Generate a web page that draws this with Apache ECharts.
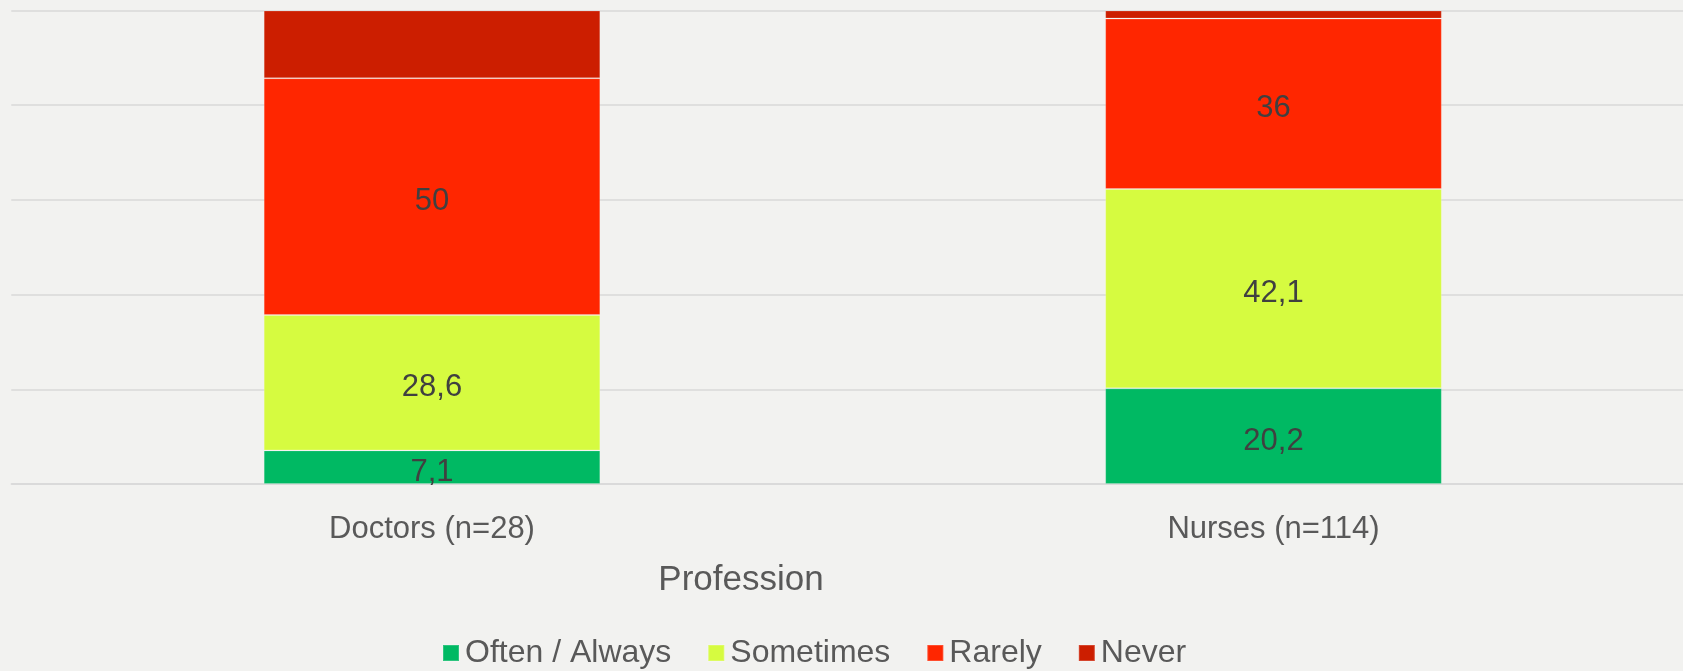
<!DOCTYPE html>
<html>
<head>
<meta charset="utf-8">
<script src="https://cdn.jsdelivr.net/npm/echarts@6/dist/echarts.min.js"></script>
<style>
html,body{margin:0;padding:0;background:#F2F2F0;}
#chart{width:1683px;height:671px;}
</style>
</head>
<body>
<div id="chart"></div>
<script>
const categories = ['Doctors (n=28)', 'Nurses (n=114)'];
const seriesNames = ['Often / Always', 'Sometimes', 'Rarely', 'Never'];
const oftenAlways = [7.1, 20.2];
const sometimes = [28.6, 42.1];
const rarely = [50, 36];
const never = [14.3, 1.7];
const axisTitle = 'Profession';

const colors = ['#00B963', '#D6FB40', '#FF2600', '#CC1E00'];
const values = [oftenAlways, sometimes, rarely, never];
const showLabels = [true, true, true, false];

const chart = echarts.init(document.getElementById('chart'));
const font = '"Liberation Sans", Arial, sans-serif';

chart.setOption({
  backgroundColor: '#F2F2F0',
  animation: false,
  grid: { left: 11.25, width: 1683, top: 10.5, height: 473.5, containLabel: false, outerBoundsMode: 'none' },
  xAxis: {
    type: 'category',
    data: categories,
    axisLine: { show: true, lineStyle: { color: '#D9D9D9', width: 1.5 } },
    axisTick: { show: false },
    axisLabel: { color: '#595959', fontSize: 31, fontFamily: font, margin: 30 }
  },
  yAxis: {
    type: 'value',
    min: 0, max: 100, interval: 20,
    axisLabel: { show: false },
    axisLine: { show: false },
    axisTick: { show: false },
    splitLine: { lineStyle: { color: '#D9D9D9', width: 1.5 } }
  },
  legend: {
    data: seriesNames,
    left: 437,
    top: 632,
    itemWidth: 16,
    itemHeight: 16,
    itemGap: 36,
    icon: 'rect',
    textStyle: { color: '#595959', fontSize: 32, fontFamily: font, padding: [0, 0, 0, 1] }
  },
  graphic: [{
    type: 'text',
    x: 741, y: 580,
    style: { text: axisTitle, fill: '#595959', font: '35px ' + font, align: 'center', verticalAlign: 'middle' }
  }],
  series: seriesNames.map((name, i) => ({
    name: name,
    type: 'bar',
    stack: 'total',
    barWidth: '40%',
    data: values[i],
    itemStyle: { color: colors[i], borderColor: 'rgba(255,255,255,0.18)', borderWidth: 1 },
    label: {
      show: showLabels[i],
      position: 'inside',
      offset: [0, 5],
      color: '#404040',
      fontSize: 31,
      fontFamily: font,
      formatter: p => String(p.value).replace('.', ',')
    }
  }))
});
</script>
</body>
</html>
